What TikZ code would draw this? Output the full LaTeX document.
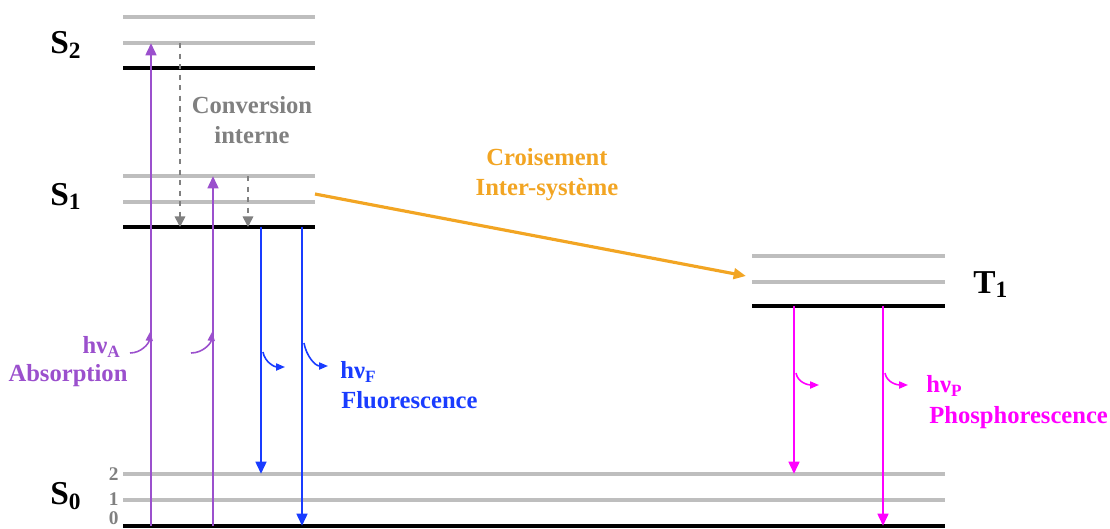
\documentclass[tikz,border=0pt]{standalone}
\usepackage{fontspec}
\setmainfont{Liberation Serif}
\usetikzlibrary{arrows.meta}
\definecolor{absorb}{RGB}{155,80,205}
\definecolor{fluo}{RGB}{25,60,255}
\definecolor{phospho}{RGB}{255,0,255}
\definecolor{isc}{RGB}{242,165,35}
\definecolor{subgray}{RGB}{190,190,190}
\definecolor{icgray}{RGB}{128,128,128}
\begin{document}
\begin{tikzpicture}[x=0.02cm, y=-0.02cm,
        elevel/.style = {line width=2pt},
        vlevel/.style = {subgray, line width=1.8pt},
        trans/.style = {line width=1.6pt, -{Triangle[length=7pt,width=6pt]}},
        icarrow/.style = {icgray, dashed, line width=0.9pt, -{Triangle[length=6pt,width=6pt]}},
        photon/.style = {line width=0.9pt, -{Triangle[length=5pt,width=4pt]}},
        proc/.style = {font=\fontsize{14}{17}\selectfont\bfseries, inner sep=0pt},
        statelbl/.style = {font=\fontsize{19}{22}\selectfont\bfseries, inner sep=0pt},
        vnum/.style = {font=\fontsize{11}{12}\selectfont\bfseries, text=icgray, inner sep=0pt, anchor=east}]
        \useasboundingbox (0,0) rectangle (1110,528);
        % energy levels
        \foreach \y in {17,43,176,202} \draw[vlevel] (123,\y) -- (315,\y);
        \foreach \y in {68,227} \draw[elevel] (123,\y) -- (315,\y);
        \foreach \y in {474,500} \draw[vlevel] (123,\y) -- (945,\y);
        \draw[elevel] (123,526) -- (945,526);
        \foreach \y in {256,282} \draw[vlevel] (752,\y) -- (945,\y);
        \draw[elevel] (752,306) -- (945,306);
        \node[statelbl, anchor=base west] (s2) at (50,53) {S\textsubscript{2}};
        \node[statelbl, anchor=base west] (s1) at (50,205) {S\textsubscript{1}};
        \node[statelbl, anchor=base west] (s0) at (50,504) {S\textsubscript{0}};
        \node[statelbl, anchor=base west] (t1) at (973,293) {T\textsubscript{1}};
        \node[vnum] (v2) at (119,474) {2};
        \node[vnum] (v1) at (119,499) {1};
        \node[vnum] (v0) at (119,518) {0};
        % transition end points
        \coordinate (a1b) at (151,526); \coordinate (a1t) at (151,43);
        \coordinate (a2b) at (213,526); \coordinate (a2t) at (213,176);
        \coordinate (ic1t) at (180,43); \coordinate (ic1b) at (180,227);
        \coordinate (ic2t) at (248,176); \coordinate (ic2b) at (248,227);
        \coordinate (f1t) at (261,227); \coordinate (f1b) at (261,474);
        \coordinate (f2t) at (302,227); \coordinate (f2b) at (302,526);
        \coordinate (p1t) at (794,306); \coordinate (p1b) at (794,474);
        \coordinate (p2t) at (883,306); \coordinate (p2b) at (883,526);
        \coordinate (xs) at (315,194); \coordinate (xe) at (746,276);
        \draw[trans, absorb] (a1b) -- (a1t);
        \draw[trans, absorb] (a2b) -- (a2t);
        \draw[icarrow] (ic1t) -- (ic1b);
        \draw[icarrow] (ic2t) -- (ic2b);
        \draw[trans, fluo] (f1t) -- (f1b);
        \draw[trans, fluo] (f2t) -- (f2b);
        \draw[trans, phospho] (p1t) -- (p1b);
        \draw[trans, phospho] (p2t) -- (p2b);
        \draw[trans, isc, line width=1.8pt] (xs) -- (xe);
        % photons
        \coordinate (ha1) at (130,353); \coordinate (ha1e) at (150,332);
        \coordinate (ha2) at (191,353); \coordinate (ha2e) at (212,332);
        \draw[photon, absorb] (ha1) to[out=0, in=-95] (ha1e);
        \draw[photon, absorb] (ha2) to[out=0, in=-95] (ha2e);
        \coordinate (hf1) at (263,352); \coordinate (hf1e) at (285,367);
        \coordinate (hf2) at (304,343); \coordinate (hf2e) at (328,366);
        \draw[photon, fluo] (hf1) to[out=-80, in=180] (hf1e);
        \draw[photon, fluo] (hf2) to[out=-80, in=180] (hf2e);
        \coordinate (hp1) at (796,373); \coordinate (hp1e) at (819,385);
        \coordinate (hp2) at (885,373); \coordinate (hp2e) at (908,385);
        \draw[photon, phospho] (hp1) to[out=-80, in=180] (hp1e);
        \draw[photon, phospho] (hp2) to[out=-80, in=180] (hp2e);
        % labels
        \node[proc, icgray, align=center] (ic) at (252,120) {Conversion\\interne};
        \node[proc, isc, align=center] (cis) at (547,175) {Croisement\\Inter-système};
        \node[proc, absorb, anchor=east] (hva) at (121,347) {hν\textsubscript{A}};
        \node[proc, absorb] (abs) at (68,376) {Absorption};
        \node[proc, fluo, anchor=west] (hvf) at (340,372) {hν\textsubscript{F}};
        \node[proc, fluo, anchor=west] (fluo) at (341,400) {Fluorescence};
        \node[proc, phospho, anchor=west] (hvp) at (926,386) {hν\textsubscript{P}};
        \node[proc, phospho, anchor=west] (phos) at (929,418) {Phosphorescence};
\end{tikzpicture}
\end{document}
